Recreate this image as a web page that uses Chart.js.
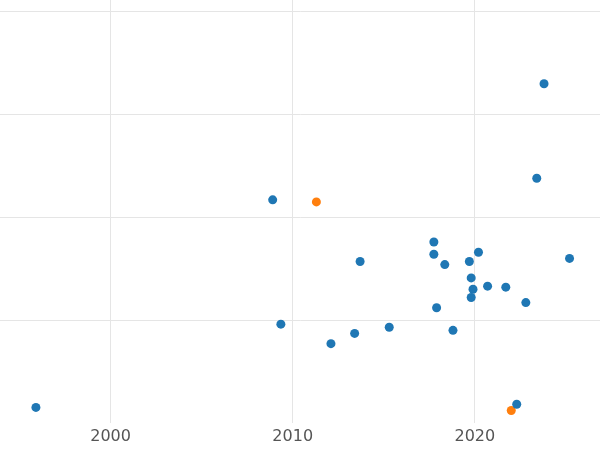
<!DOCTYPE html>
<html><head><meta charset="utf-8">
<script src="https://cdn.jsdelivr.net/npm/chart.js@4"></script>
<style>html,body{margin:0;padding:0;background:#fff;overflow:hidden;width:600px;height:450px}#w{position:absolute;left:-5px;top:-5px;width:610px;height:455px}</style>
</head><body><div id="w"><canvas id="c"></canvas></div>
<script>
const blueX=[1995.9,2008.9,2009.35,2012.1,2013.4,2013.7,2015.3,2017.75,2017.75,2017.9,2018.35,2018.8,2019.7,2019.8,2019.9,2019.8,2020.2,2020.7,2021.7,2022.8,2022.3,2023.4,2023.8,2025.2];
const blueY=[0.15,2.17,0.96,0.77,0.87,1.57,0.93,1.76,1.64,1.12,1.54,0.90,1.57,1.41,1.30,1.22,1.66,1.33,1.32,1.17,0.18,2.38,3.30,1.60];
const orangeX=[2011.3,2022.0];
const orangeY=[2.15,0.12];
const xTicks=[2000,2010,2020];
const pts=(xs,ys)=>xs.map((x,i)=>({x,y:ys[i]}));
new Chart(document.getElementById('c'),{type:'scatter',
data:{datasets:[
{data:pts(blueX,blueY),backgroundColor:'#1f77b4',borderWidth:0,pointRadius:4.5},
{data:pts(orangeX,orangeY),backgroundColor:'#ff7f0e',borderWidth:0,pointRadius:4.5}]},
options:{responsive:true,maintainAspectRatio:false,animation:false,
layout:{padding:0},
plugins:{legend:{display:false},tooltip:{enabled:false}},
scales:{
x:{type:'linear',min:1993.9,max:2026.9,afterBuildTicks:a=>{a.ticks=xTicks.map(v=>({value:v}))},
 grid:{color:'#e5e5e5',drawTicks:false},border:{display:false},
 ticks:{color:'#555',font:{size:16,family:'DejaVu Sans'},padding:4,callback:v=>String(v)}},
y:{min:0,max:4.12,afterBuildTicks:a=>{a.ticks=[1,2,3,4].map(v=>({value:v}))},
 grid:{color:'#e5e5e5',drawTicks:false},border:{display:false},ticks:{display:false}}
}}});
</script></body></html>
